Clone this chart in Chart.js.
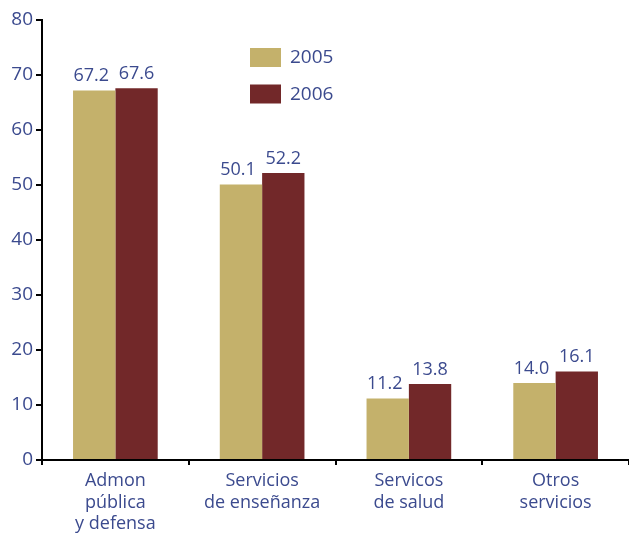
<!DOCTYPE html>
<html>
<head>
<meta charset="utf-8">
<script src="https://cdn.jsdelivr.net/npm/chart.js@4/dist/chart.umd.min.js"></script>
<style>
  html, body { margin: 0; padding: 0; background: #fff; }
  canvas { display: block; }
</style>
</head>
<body>
<canvas id="bar-chart" width="629" height="533"></canvas>
<script>
// chart values
const categories = [['Admon', 'pública', 'y defensa'], ['Servicios', 'de enseñanza'], ['Servicos', 'de salud'], ['Otros', 'servicios']];
const years = ['2005', '2006'];
const values2005 = [67.2, 50.1, 11.2, 14.0];
const values2006 = [67.6, 52.2, 13.8, 16.1];

const textColor = '#3b4a8e';
const fontFamily = '"Open Sans", Lato, sans-serif';

// value labels above each bar
const barLabels = {
  id: 'barLabels',
  afterDatasetsDraw(chart) {
    const ctx = chart.ctx;
    ctx.save();
    ctx.font = '500 18px ' + fontFamily;
    ctx.fillStyle = textColor;
    ctx.textAlign = 'center';
    ctx.textBaseline = 'alphabetic';
    chart.data.datasets.forEach((ds, i) => {
      chart.getDatasetMeta(i).data.forEach((bar, j) => {
        ctx.fillText(ds.data[j].toFixed(1), bar.x - (i === 0 ? 3 : 0), bar.y - 9);
      });
    });
    ctx.restore();
  }
};

// legend drawn inside the plot area
const insideLegend = {
  id: 'insideLegend',
  afterDraw(chart) {
    const ctx = chart.ctx;
    ctx.save();
    ctx.font = '500 19px ' + fontFamily;
    ctx.textBaseline = 'middle';
    chart.data.datasets.forEach((ds, i) => {
      const y = 48 + i * 36.5;
      ctx.fillStyle = ds.backgroundColor;
      ctx.fillRect(250, y, 31, 19);
      ctx.fillStyle = textColor;
      ctx.fillText(ds.label, 290, y + 10);
    });
    ctx.restore();
  }
};

new Chart(document.getElementById('bar-chart').getContext('2d'), {
  type: 'bar',
  data: {
    labels: categories,
    datasets: [
      { label: years[0], data: values2005, backgroundColor: '#c4b16b' },
      { label: years[1], data: values2006, backgroundColor: '#722829' }
    ]
  },
  options: {
    responsive: false,
    animation: false,
    layout: { padding: { top: 20, right: 0, left: 0, bottom: 0 } },
    datasets: {
      bar: { categoryPercentage: 0.577, barPercentage: 1.0 }
    },
    plugins: {
      legend: { display: false },
      tooltip: { enabled: false }
    },
    scales: {
      x: {
        afterFit: scale => { scale.height = 73; },
        grid: { drawOnChartArea: false, tickLength: 5, color: '#000', lineWidth: 2, offset: true },
        border: { color: '#000', width: 2 },
        ticks: {
          color: textColor,
          padding: 5,
          maxRotation: 0,
          autoSkip: false,
          font: { family: fontFamily, size: 18, weight: '500', lineHeight: 1.2 }
        }
      },
      y: {
        min: 0,
        max: 80,
        afterFit: scale => { scale.width = 42; },
        grid: { drawOnChartArea: false, tickLength: 6, color: '#000', lineWidth: 2 },
        border: { color: '#000', width: 2 },
        ticks: {
          stepSize: 10,
          color: textColor,
          padding: 3,
          font: { family: fontFamily, size: 19, weight: '500' }
        }
      }
    }
  },
  plugins: [barLabels, insideLegend]
});
</script>
</body>
</html>
